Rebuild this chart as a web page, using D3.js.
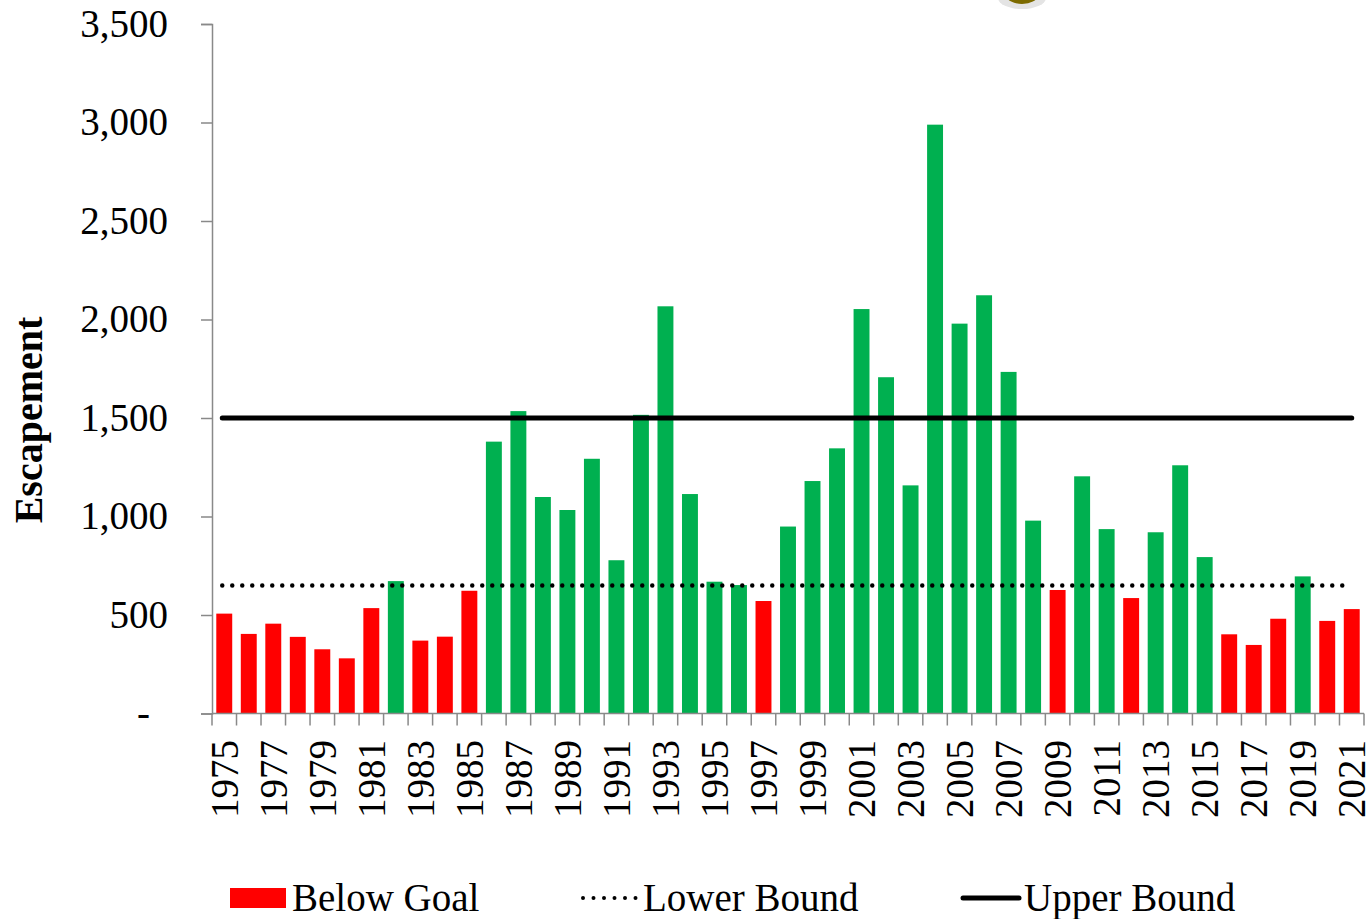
<!DOCTYPE html>
<html>
<head>
<meta charset="utf-8">
<script src="https://cdn.jsdelivr.net/npm/d3@7"></script>
<style>
  body { margin: 0; background: #fff; }
  svg { display: block; }
  text { font-family: "Liberation Serif", "Times New Roman", serif; fill: #000; }
</style>
</head>
<body>
<div id="chart"></div>
<script>
var years = d3.range(1975, 2022);
var escapement = [507, 404, 456, 389, 326, 280, 535, 672, 370, 390,
                  623, 1380, 1535, 1099, 1033, 1293, 778, 1516, 2067, 1114,
                  669, 652, 571, 949, 1180, 1346, 2053, 1707, 1158, 2989,
                  1979, 2123, 1734, 979, 627, 1204, 936, 586, 920, 1260,
                  794, 402, 348, 481, 696, 470, 530];
var lowerBound = 650;
var upperBound = 1500;
var yTicks = [0, 500, 1000, 1500, 2000, 2500, 3000, 3500];

var width = 1368, height = 919;
var plotLeft = 212, plotRight = 1364, plotTop = 24, plotBottom = 713.5;

var svg = d3.select("#chart").append("svg")
    .attr("width", width).attr("height", height);

var x = d3.scaleBand().domain(years).range([plotLeft, plotRight]).paddingInner(0.35).paddingOuter(0.175);
var y = d3.scaleLinear().domain([0, 3500]).range([plotBottom, plotTop]);

//Bars
svg.selectAll("rect.bar")
    .data(years)
  .enter().append("rect")
    .attr("class", "bar")
    .attr("x", function(d) { return x(d); })
    .attr("width", x.bandwidth())
    .attr("y", function(d, i) { return y(escapement[i]); })
    .attr("height", function(d, i) { return y(0) - y(escapement[i]); })
    .attr("fill", function(d, i) { return escapement[i] < lowerBound ? "#ff0000" : "#00b050"; });

//Y axis
var yAxis = d3.axisLeft(y).tickValues(yTicks).tickSizeOuter(0).tickSize(11).tickPadding(33)
    .tickFormat(function(d) { return d === 0 ? "-" : d3.format(",")(d); });
var gy = svg.append("g").attr("transform", "translate(" + plotLeft + ",0)").call(yAxis);
gy.selectAll("path, line").attr("stroke", "#898989").attr("stroke-width", 1.5);
gy.selectAll("text").style("font-size", "39px").attr("font-family", null)
    .attr("dx", function(d) { return d === 0 ? -18 : 0; });

//X axis: ticks between categories
var step = x.step();
var bounds = years.map(function(d) { return x(d) - (step - x.bandwidth()) / 2; });
bounds.push(plotRight);
svg.append("line")
    .attr("x1", plotLeft).attr("x2", plotRight).attr("y1", plotBottom).attr("y2", plotBottom)
    .attr("stroke", "#898989").attr("stroke-width", 1.5);
svg.selectAll("line.xtick")
    .data(bounds)
  .enter().append("line")
    .attr("class", "xtick")
    .attr("x1", function(d) { return d; }).attr("x2", function(d) { return d; })
    .attr("y1", plotBottom).attr("y2", plotBottom + 12)
    .attr("stroke", "#898989").attr("stroke-width", 1.5);

svg.selectAll("text.xlabel")
    .data(years.filter(function(d) { return d % 2 === 1; }))
  .enter().append("text")
    .attr("class", "xlabel")
    .attr("transform", function(d) { return "translate(" + (x(d) + x.bandwidth() / 2) + ",740) rotate(-90)"; })
    .attr("text-anchor", "end")
    .attr("dy", "0.35em")
    .style("font-size", "39px")
    .text(function(d) { return d; });

//Bound lines
var x0 = x(years[0]) + x.bandwidth() / 2 - 2,
    x1 = x(years[years.length - 1]) + x.bandwidth() / 2;
svg.append("line")
    .attr("x1", x0).attr("x2", x1 - 8)
    .attr("y1", y(lowerBound)).attr("y2", y(lowerBound))
    .attr("stroke", "#000").attr("stroke-width", 4.5)
    .attr("stroke-linecap", "round").attr("stroke-dasharray", "0,10");
svg.append("line")
    .attr("x1", x0).attr("x2", x1)
    .attr("y1", y(upperBound)).attr("y2", y(upperBound))
    .attr("stroke", "#000").attr("stroke-width", 5)
    .attr("stroke-linecap", "round");

//Y title
svg.append("text")
    .attr("transform", "translate(28,420) rotate(-90)")
    .attr("text-anchor", "middle")
    .attr("dy", "0.35em")
    .style("font-size", "40px")
    .style("font-weight", "bold")
    .text("Escapement");

//Legend
var ly = 898;
svg.append("rect").attr("x", 230).attr("y", 888).attr("width", 56).attr("height", 20).attr("fill", "#ff0000");
svg.append("text").attr("x", 292).attr("y", 911).style("font-size", "39px").text("Below Goal");
svg.append("line").attr("x1", 583).attr("x2", 636).attr("y1", ly).attr("y2", ly)
    .attr("stroke", "#000").attr("stroke-width", 4)
    .attr("stroke-linecap", "round").attr("stroke-dasharray", "0,10.5");
svg.append("text").attr("x", 643).attr("y", 911).style("font-size", "39px").text("Lower Bound");
svg.append("line").attr("x1", 963).attr("x2", 1019).attr("y1", ly).attr("y2", ly)
    .attr("stroke", "#000").attr("stroke-width", 5).attr("stroke-linecap", "round");
svg.append("text").attr("x", 1024).attr("y", 911).style("font-size", "39px").text("Upper Bound");

//Partial logo peeking in at the top
svg.append("ellipse").attr("cx", 1022).attr("cy", -2).attr("rx", 24).attr("ry", 11)
    .attr("fill", "#e4e4e4");
svg.append("ellipse").attr("cx", 1022).attr("cy", -5).attr("rx", 16).attr("ry", 9)
    .attr("fill", "#7d6b00");
</script>
</body>
</html>
